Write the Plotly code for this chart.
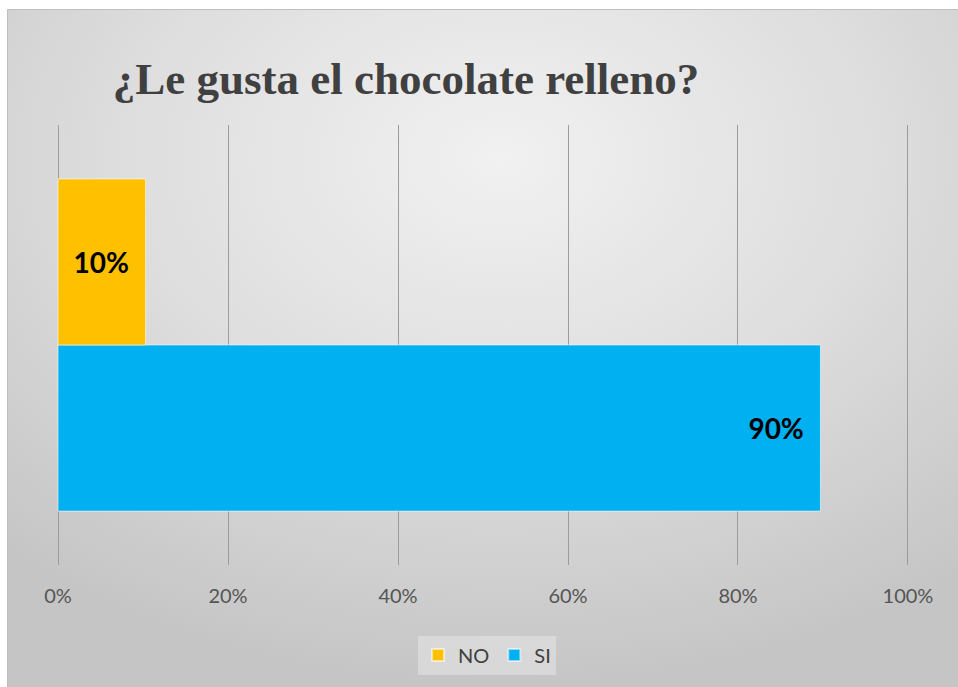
import base64
import plotly.graph_objects as go

# ---- data ----
category = ["¿Le gusta el chocolate relleno?"]
series_names = ["NO", "SI"]
no_values = [0.103]
si_values = [0.897]
tick_vals = [0, 0.2, 0.4, 0.6, 0.8, 1.0]
tick_text = ["0%", "20%", "40%", "60%", "80%", "100%"]
title_text = "¿Le gusta el chocolate relleno?"

W, H = 958, 687
L, R, T, B = 57, 49, 125, 122
PW, PH = W - L - R, H - T - B

def px_to_paper_x(px):
    return (px - L) / PW

def px_to_paper_y(py):
    return (H - B - py) / PH

# radial gradient background as an SVG image
svg = (
    '<svg xmlns="http://www.w3.org/2000/svg" width="951" height="678" viewBox="0 0 951 678" preserveAspectRatio="none">'
    '<defs><radialGradient id="g" cx="0.52" cy="0.22" r="0.78" fx="0.52" fy="0.22">'
    '<stop offset="0" stop-color="#f1f1f1"/>'
    '<stop offset="0.5" stop-color="#dedede"/>'
    '<stop offset="1" stop-color="#c5c5c5"/>'
    '</radialGradient></defs>'
    '<rect width="951" height="678" fill="url(#g)"/></svg>'
)
svg_uri = "data:image/svg+xml;base64," + base64.b64encode(svg.encode()).decode()

label_font = dict(family="Lato", size=28, color="#000000", weight="bold")

fig = go.Figure()

fig.add_trace(go.Bar(
    name=series_names[1], y=category, x=si_values, orientation="h",
    marker=dict(color="#00B0F0", line=dict(color="rgba(255,255,255,0.55)", width=1)),
    text=[f"{v:.0%}\u00a0\u00a0" for v in si_values],
    textposition="inside", insidetextanchor="end",
    textfont=label_font,
    legendrank=2, hoverinfo="skip",
))
fig.add_trace(go.Bar(
    name=series_names[0], y=category, x=no_values, orientation="h",
    marker=dict(color="#FFC000", line=dict(color="rgba(255,255,255,0.55)", width=1)),
    text=[f"{v:.0%}\u00a0\u00a0" for v in no_values],
    textposition="inside", insidetextanchor="end",
    textfont=label_font,
    legendrank=1, hoverinfo="skip",
))

fig.update_layout(
    width=W, height=H,
    margin=dict(l=L, r=R, t=T, b=B, pad=0),
    paper_bgcolor="#ffffff",
    plot_bgcolor="rgba(0,0,0,0)",
    barmode="group", bargap=0.245, bargroupgap=0,
    uniformtext=dict(mode=False),
    title=dict(
        text=title_text, x=406 / W, xanchor="center", y=1 - 78 / H, yanchor="middle",
        font=dict(family="Liberation Serif", size=45, color="#404040", weight="bold"),
    ),
    xaxis=dict(
        range=[-0.0012, 1.0012], tickvals=tick_vals, ticktext=tick_text,
        showgrid=True, gridcolor="#9c9c9c", gridwidth=1.2,
        zeroline=True, zerolinecolor="#9c9c9c", zerolinewidth=1.2,
        showline=False, ticks="",
        ticklabelstandoff=17,
        tickfont=dict(family="Lato", size=20, color="#555555"),
        fixedrange=True,
    ),
    yaxis=dict(
        showticklabels=False, showgrid=False, zeroline=False, showline=False,
        ticks="", range=[-0.5, 0.5], fixedrange=True,
    ),
    legend=dict(
        orientation="h", xref="container", yref="container",
        x=487 / W, xanchor="center", y=1 - 655 / H, yanchor="middle",
        bgcolor="rgba(255,255,255,0.3)", borderwidth=0,
        font=dict(family="Lato", size=20, color="#404040"),
        itemwidth=30, itemsizing="constant",
    ),
    images=[dict(
        source=svg_uri, xref="paper", yref="paper",
        x=px_to_paper_x(7), y=px_to_paper_y(9),
        sizex=(W - 7) / PW, sizey=(H - 9) / PH,
        xanchor="left", yanchor="top", sizing="stretch", layer="below",
    )],
    shapes=[dict(
        type="rect", xref="paper", yref="paper",
        x0=px_to_paper_x(7.5), x1=px_to_paper_x(W + 2),
        y0=px_to_paper_y(H + 2), y1=px_to_paper_y(9.5),
        line=dict(color="#bfbfbf", width=1), layer="below",
    )],
)

fig.write_html("out.html")
